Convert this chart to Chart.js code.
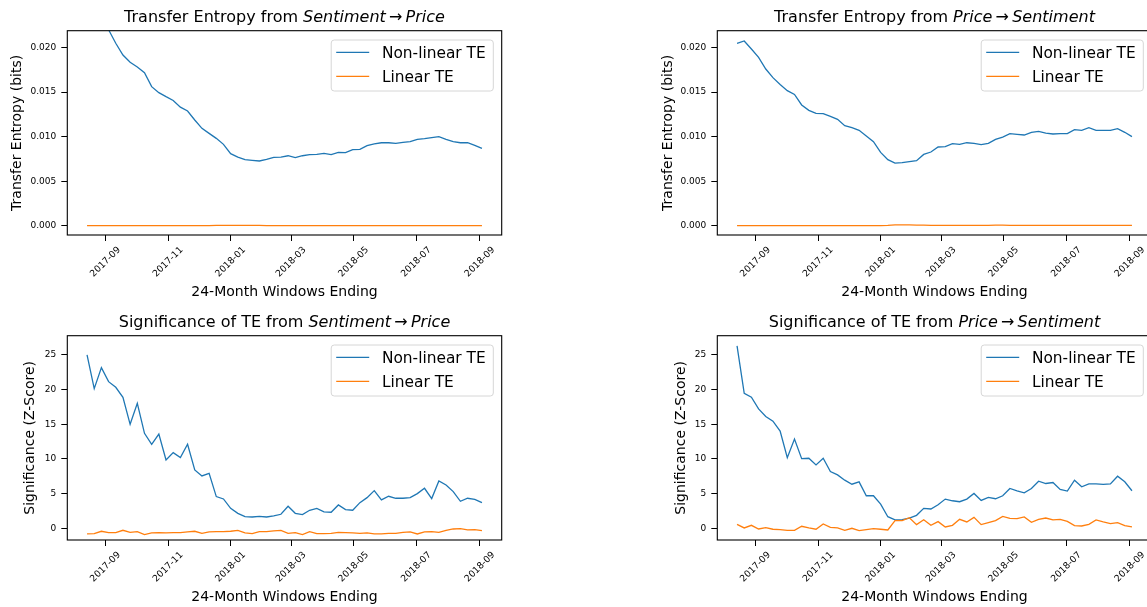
<!DOCTYPE html>
<html>
<head>
<meta charset="utf-8">
<script src="https://cdn.jsdelivr.net/npm/chart.js@4/dist/chart.umd.min.js"></script>
<style>
html,body{margin:0;padding:0;background:#fff;overflow:hidden;width:1147px;height:607px;position:relative;}
canvas{position:absolute;}
</style>
</head>
<body>
<canvas id="c0" width="650" height="305" style="left:0px;top:0px;width:650px;height:305px"></canvas>
<canvas id="c1" width="650" height="305" style="left:650px;top:0px;width:650px;height:305px"></canvas>
<canvas id="c2" width="650" height="305" style="left:0px;top:305px;width:650px;height:305px"></canvas>
<canvas id="c3" width="650" height="305" style="left:650px;top:305px;width:650px;height:305px"></canvas>
<script>
// ---------- data ----------
const dates = [
 '2017-08-14','2017-08-21','2017-08-28','2017-09-04','2017-09-11','2017-09-18','2017-09-25',
 '2017-10-02','2017-10-09','2017-10-16','2017-10-23','2017-10-30','2017-11-06','2017-11-13',
 '2017-11-20','2017-11-27','2017-12-04','2017-12-11','2017-12-18','2017-12-25','2018-01-01',
 '2018-01-08','2018-01-15','2018-01-22','2018-01-29','2018-02-05','2018-02-12','2018-02-19',
 '2018-02-26','2018-03-05','2018-03-12','2018-03-19','2018-03-26','2018-04-02','2018-04-09',
 '2018-04-16','2018-04-23','2018-04-30','2018-05-07','2018-05-14','2018-05-21','2018-05-28',
 '2018-06-04','2018-06-11','2018-06-18','2018-06-25','2018-07-02','2018-07-09','2018-07-16',
 '2018-07-23','2018-07-30','2018-08-06','2018-08-13','2018-08-20','2018-08-27','2018-09-03'
];
const xTickLabels = ['2017-09','2017-11','2018-01','2018-03','2018-05','2018-07','2018-09'];

const teSentToPriceNonLinear = [0.0255,0.0243,0.0231,0.0220,0.02049,0.01917,0.01835,0.01783,0.01719,0.01562,
 0.01494,0.01449,0.01407,0.01332,0.01288,0.01187,0.01094,0.01037,0.00981,0.00914,
 0.00809,0.00771,0.00742,0.00734,0.00727,0.00745,0.00768,0.00771,0.00786,0.00764,
 0.00786,0.00798,0.00801,0.00813,0.00798,0.00824,0.00820,0.00854,0.00858,0.00899,
 0.00918,0.00932,0.00932,0.00925,0.00936,0.00944,0.00970,0.00977,0.00989,0.01000,
 0.00970,0.00944,0.00932,0.00932,0.00903,0.00869];
const teSentToPriceLinear = [0.00002,0.00002,0.00002,0.00002,0.00002,0.00002,0.00002,0.00002,0.00002,0.00002,
 0.00002,0.00002,0.00002,0.00002,0.00002,0.00002,0.00002,0.00002,0.00003,0.00003,
 0.00003,0.00003,0.00003,0.00003,0.00003,0.00002,0.00002,0.00002,0.00002,0.00002,
 0.00002,0.00002,0.00002,0.00002,0.00002,0.00002,0.00002,0.00002,0.00002,0.00002,
 0.00002,0.00002,0.00002,0.00002,0.00002,0.00002,0.00002,0.00002,0.00002,0.00002,
 0.00002,0.00002,0.00002,0.00002,0.00002,0.00002];
const tePriceToSentNonLinear = [0.02049,0.02075,0.01985,0.01891,0.01760,0.01663,0.01587,0.01517,0.01475,0.01356,
 0.01296,0.01262,0.01258,0.01228,0.01195,0.01124,0.01101,0.01071,0.01007,0.00944,
 0.00824,0.00742,0.00704,0.00708,0.00719,0.00730,0.00801,0.00828,0.00884,0.00888,
 0.00921,0.00914,0.00932,0.00925,0.00910,0.00925,0.00970,0.00996,0.01034,0.01026,
 0.01019,0.01049,0.01060,0.01041,0.01030,0.01034,0.01034,0.01079,0.01071,0.01101,
 0.01071,0.01071,0.01071,0.01090,0.01049,0.01000];
const tePriceToSentLinear = [0.00002,0.00002,0.00002,0.00002,0.00001,0.00001,0.00002,0.00002,0.00002,0.00002,
 0.00002,0.00002,0.00002,0.00001,0.00001,0.00002,0.00002,0.00002,0.00002,0.00002,
 0.00002,0.00003,0.00009,0.00010,0.00009,0.00008,0.00006,0.00005,0.00004,0.00003,
 0.00004,0.00004,0.00004,0.00004,0.00004,0.00005,0.00006,0.00006,0.00005,0.00004,
 0.00005,0.00005,0.00004,0.00004,0.00004,0.00004,0.00004,0.00004,0.00005,0.00004,
 0.00004,0.00004,0.00004,0.00004,0.00004,0.00004];
const zSentToPriceNonLinear = [25.0,20.14,23.17,21.15,20.34,18.89,15.0,18.03,13.7,12.12,
 13.6,9.86,10.91,10.19,12.12,8.41,7.55,7.93,4.57,4.23,
 2.88,2.16,1.68,1.63,1.73,1.63,1.78,2.02,3.17,2.16,
 1.97,2.6,2.88,2.36,2.31,3.37,2.69,2.6,3.7,4.42,
 5.43,4.09,4.62,4.33,4.33,4.42,5.0,5.77,4.28,6.83,
 6.25,5.29,3.89,4.33,4.18,3.7];
const zSentToPriceLinear = [-0.82,-0.77,-0.43,-0.63,-0.63,-0.29,-0.58,-0.48,-0.91,-0.67,
 -0.63,-0.67,-0.63,-0.63,-0.53,-0.43,-0.72,-0.53,-0.48,-0.48,
 -0.43,-0.29,-0.67,-0.77,-0.48,-0.48,-0.38,-0.29,-0.72,-0.63,
 -0.91,-0.48,-0.77,-0.77,-0.72,-0.58,-0.63,-0.67,-0.72,-0.67,
 -0.82,-0.82,-0.72,-0.72,-0.58,-0.53,-0.82,-0.53,-0.48,-0.58,
 -0.29,-0.1,-0.05,-0.24,-0.19,-0.34];
const zPriceToSentNonLinear = [26.32,19.47,18.9,17.22,16.12,15.45,14.02,10.19,12.87,10.05,
 10.1,9.14,10.1,8.18,7.7,6.94,6.36,6.7,4.69,4.69,
 3.49,1.67,1.2,1.24,1.48,1.87,2.87,2.78,3.4,4.21,
 3.97,3.83,4.21,5.02,4.02,4.45,4.26,4.69,5.74,5.41,
 5.12,5.74,6.79,6.46,6.6,5.6,5.36,6.94,5.98,6.41,
 6.41,6.32,6.41,7.51,6.7,5.41];
const zPriceToSentLinear = [0.57,0.05,0.43,-0.1,0.1,-0.14,-0.19,-0.29,-0.29,0.29,
 0.05,-0.14,0.62,0.14,0.05,-0.29,0.0,-0.33,-0.19,-0.05,
 -0.14,-0.24,1.1,1.1,1.53,0.53,1.24,0.43,0.96,0.19,
 0.43,1.29,0.91,1.58,0.53,0.81,1.1,1.72,1.44,1.39,
 1.63,0.86,1.29,1.48,1.2,1.29,1.0,0.38,0.33,0.57,
 1.2,0.91,0.67,0.81,0.38,0.19];

const teTicks = [0, 0.005, 0.010, 0.015, 0.020];
const teTickLabels = ['0.000','0.005','0.010','0.015','0.020'];
const zTicks = [0, 5, 10, 15, 20, 25];
const zTickLabels = ['0','5','10','15','20','25'];
const seriesLabels = ['Non-linear TE', 'Linear TE'];

// ---------- helpers ----------
const BLUE = '#1f77b4', ORANGE = '#ff7f0e';
const FONT = "'DejaVu Sans'";
Chart.defaults.font.family = FONT;
Chart.defaults.color = '#000';

const ts = s => Date.parse(s + 'T00:00:00Z');
const xVals = dates.map(ts);
const xTickVals = xTickLabels.map(s => ts(s + '-01'));
const span = xVals[xVals.length - 1] - xVals[0];
const X_MIN = xVals[0] - 0.05 * span;
const X_MAX = xVals[xVals.length - 1] + 0.05 * span;
const pts = arr => arr.map((v, i) => ({x: xVals[i], y: v}));

const mplPlugin = {
  id: 'mpl',
  afterDraw(chart, args, o) {
    const ctx = chart.ctx, a = chart.chartArea;
    ctx.save();
    // spines
    ctx.strokeStyle = '#000';
    ctx.lineWidth = 1.1;
    ctx.strokeRect(a.left, a.top, a.right - a.left, a.bottom - a.top);
    // rotated x tick labels (centered like matplotlib)
    const xs = chart.scales.x;
    ctx.fillStyle = '#000';
    ctx.font = '9.2px ' + FONT;
    ctx.textAlign = 'center';
    ctx.textBaseline = 'middle';
    xs.ticks.forEach((t, i) => {
      const px = xs.getPixelForValue(t.value);
      ctx.save();
      ctx.translate(px, a.bottom + 27);
      ctx.rotate(-Math.PI / 4);
      ctx.fillText(xTickLabels[i], 0, 0);
      ctx.restore();
    });
    // title with italic parts
    const fs = o.titleSize;
    const segs = [
      {t: o.prefix, f: fs + 'px ' + FONT},
      {t: o.from, f: 'italic ' + fs + 'px ' + FONT},
      {t: '\u2009\u2192\u2009', f: fs + 'px ' + FONT},
      {t: o.to, f: 'italic ' + fs + 'px ' + FONT}
    ];
    let total = 0;
    segs.forEach(s => { ctx.font = s.f; s.w = ctx.measureText(s.t).width; total += s.w; });
    let x = (a.left + a.right) / 2 - total / 2;
    ctx.textAlign = 'left';
    ctx.textBaseline = 'alphabetic';
    segs.forEach(s => { ctx.font = s.f; ctx.fillText(s.t, x, a.top - 8.6); x += s.w; });
    // legend
    const lfs = 15.4;
    ctx.font = lfs + 'px ' + FONT;
    const ds = chart.data.datasets;
    let tw = 0;
    ds.forEach(d => { tw = Math.max(tw, ctx.measureText(d.label).width); });
    const bw = 50.7 + tw + 7.6, bh = 51;
    const bx = a.right - 8.4 - bw, by = a.top + 9.3;
    ctx.beginPath();
    ctx.roundRect(bx, by, bw, bh, 3);
    ctx.fillStyle = 'rgba(255,255,255,0.8)';
    ctx.fill();
    ctx.strokeStyle = '#d6d6d6';
    ctx.lineWidth = 1;
    ctx.stroke();
    ds.forEach((d, i) => {
      const y = by + 12.3 + 24 * i;
      ctx.beginPath();
      ctx.moveTo(bx + 5, y);
      ctx.lineTo(bx + 38, y);
      ctx.strokeStyle = d.borderColor;
      ctx.lineWidth = 1.3;
      ctx.stroke();
      ctx.fillStyle = '#000';
      ctx.fillText(d.label, bx + 50.7, y + 5.7);
    });
    ctx.restore();
  }
};

function makeChart(id, p) {
  return new Chart(document.getElementById(id), {
    type: 'line',
    data: {
      datasets: [
        {label: seriesLabels[0], data: pts(p.nl), borderColor: BLUE, backgroundColor: BLUE,
         borderWidth: 1.3, pointRadius: 0, fill: false, tension: 0, order: 1},
        {label: seriesLabels[1], data: pts(p.lin), borderColor: ORANGE, backgroundColor: ORANGE,
         borderWidth: 1.3, pointRadius: 0, fill: false, tension: 0, order: 0}
      ]
    },
    options: {
      responsive: false,
      animation: false,
      events: [],
      layout: {padding: {left: 0, top: 30.7, right: 148.3, bottom: 0}},
      plugins: {
        legend: {display: false},
        tooltip: {enabled: false},
        title: {display: false},
        mpl: {prefix: p.titleLead + ' from ', from: p.from, to: p.to, titleSize: 16}
      },
      scales: {
        x: {
          type: 'linear', min: X_MIN, max: X_MAX,
          afterBuildTicks: s => { s.ticks = xTickVals.map(v => ({value: v})); },
          afterFit: s => { s.height = 70; },
          ticks: {display: false, autoSkip: false},
          grid: {display: true, drawOnChartArea: false, drawTicks: true, tickLength: 6, tickColor: '#000', tickWidth: 1},
          border: {display: false},
          title: {display: true, text: '24-Month Windows Ending', font: {size: 14}, color: '#000', padding: {top: 0, bottom: 4.6}}
        },
        y: {
          type: 'linear', min: p.yMin, max: p.yMax,
          afterBuildTicks: s => { s.ticks = p.yTicks.map(v => ({value: v})); },
          afterFit: s => { s.width = 67.3; },
          ticks: {autoSkip: false, font: {size: 9}, color: '#000', padding: 5,
                  callback: (v, i) => p.yTickLabels[i]},
          grid: {display: true, drawOnChartArea: false, drawTicks: true, tickLength: 6, tickColor: '#000', tickWidth: 1},
          border: {display: false},
          title: {display: true, text: p.yTitle, font: {size: 14}, color: '#000', padding: {top: p.yTitlePad, bottom: 0}}
        }
      }
    },
    plugins: [mplPlugin]
  });
}

makeChart('c0', {nl: teSentToPriceNonLinear, lin: teSentToPriceLinear, titleLead: 'Transfer Entropy',
  from: 'Sentiment', to: 'Price', yMin: -0.00104, yMax: 0.0219, yTicks: teTicks, yTickLabels: teTickLabels,
  yTitle: 'Transfer Entropy (bits)', yTitlePad: 9.1});
makeChart('c1', {nl: tePriceToSentNonLinear, lin: tePriceToSentLinear, titleLead: 'Transfer Entropy',
  from: 'Price', to: 'Sentiment', yMin: -0.00104, yMax: 0.0219, yTicks: teTicks, yTickLabels: teTickLabels,
  yTitle: 'Transfer Entropy (bits)', yTitlePad: 9.6});
makeChart('c2', {nl: zSentToPriceNonLinear, lin: zSentToPriceLinear, titleLead: 'Significance of TE',
  from: 'Sentiment', to: 'Price', yMin: -1.69, yMax: 27.78, yTicks: zTicks, yTickLabels: zTickLabels,
  yTitle: 'Significance (Z-Score)', yTitlePad: 22.2});
makeChart('c3', {nl: zPriceToSentNonLinear, lin: zPriceToSentLinear, titleLead: 'Significance of TE',
  from: 'Price', to: 'Sentiment', yMin: -1.69, yMax: 27.78, yTicks: zTicks, yTickLabels: zTickLabels,
  yTitle: 'Significance (Z-Score)', yTitlePad: 22.6});
</script>
</body>
</html>
